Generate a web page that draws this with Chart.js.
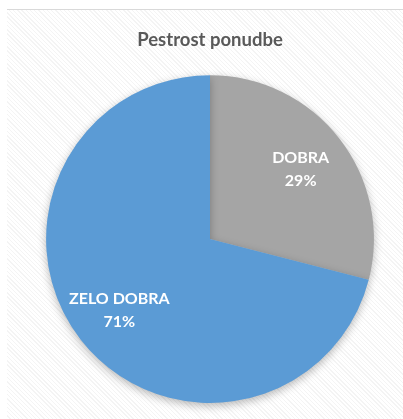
<!DOCTYPE html>
<html>
<head>
<meta charset="utf-8">
<script src="https://cdn.jsdelivr.net/npm/chart.js@4"></script>
<style>
  html, body { margin: 0; padding: 0; background: #fff; }
  #wrap { position: relative; width: 403px; height: 419px; overflow: hidden; }
  #bg {
    position: absolute; left: 7px; top: 9px; width: 396px; height: 409px;
    border-top: 1px solid #d9d9d9;
    background: repeating-linear-gradient(45deg, #ffffff 0px, #ffffff 2px, #f4f4f4 2px, #f4f4f4 3px);
  }
  canvas { position: absolute; left: 0; top: 0; }
</style>
</head>
<body>
<div id="wrap">
  <div id="bg"></div>
  <canvas id="pie" width="403" height="419"></canvas>
</div>
<script>
// data
const labels = ['DOBRA', 'ZELO DOBRA'];
const values = [29, 71];
const colors = ['#A5A5A5', '#5B9BD5'];

const FONT = 'Lato, Carlito, "Open Sans", sans-serif';

// shadow under the slices
const shadowPlugin = {
  id: 'pieShadow',
  beforeDatasetsDraw(chart) {
    const ctx = chart.ctx;
    ctx.save();
    ctx.shadowColor = 'rgba(0,0,0,0.28)';
    ctx.shadowBlur = 9;
    ctx.shadowOffsetY = 3;
  },
  afterDatasetsDraw(chart) {
    chart.ctx.restore();
  }
};

// labels inside the slices
const sliceLabels = {
  id: 'sliceLabels',
  afterDraw(chart) {
    const ctx = chart.ctx;
    const meta = chart.getDatasetMeta(0);
    const total = values.reduce((a, b) => a + b, 0);
    ctx.save();
    ctx.fillStyle = '#ffffff';
    ctx.font = 'bold 16px ' + FONT;
    ctx.textAlign = 'center';
    ctx.textBaseline = 'middle';
    meta.data.forEach((arc, i) => {
      const mid = (arc.startAngle + arc.endAngle) / 2;
      const r = arc.outerRadius * 0.7;
      const x = arc.x + Math.cos(mid) * r;
      const y = arc.y + Math.sin(mid) * r;
      ctx.fillText(labels[i], x, y - 11);
      ctx.fillText(Math.round(values[i] / total * 100) + '%', x, y + 12);
    });
    ctx.restore();
  }
};

new Chart(document.getElementById('pie'), {
  type: 'pie',
  data: {
    labels: labels,
    datasets: [{
      data: values,
      backgroundColor: colors,
      borderWidth: 0
    }]
  },
  options: {
    responsive: false,
    animation: false,
    layout: { padding: { left: 46, right: 29, bottom: 16, top: 0 } },
    plugins: {
      legend: { display: false },
      tooltip: { enabled: false },
      title: {
        display: true,
        text: 'Pestrost ponudbe',
        color: '#595959',
        font: { family: FONT, size: 18.5, weight: 'bold', lineHeight: 1.2 },
        padding: { top: 29, bottom: 24 }
      }
    }
  },
  plugins: [shadowPlugin, sliceLabels]
});
</script>
</body>
</html>
